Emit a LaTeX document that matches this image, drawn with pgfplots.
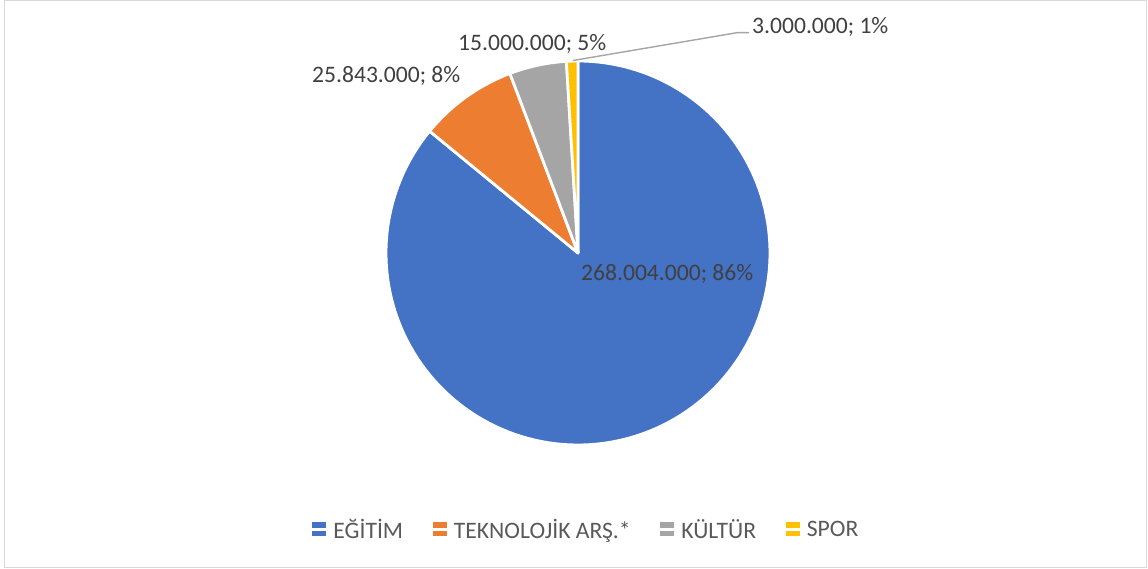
\documentclass[border=0pt]{standalone}
\usepackage{pgfplots}
\pgfplotsset{compat=1.18}
\usepackage{fontspec}
\setmainfont{Carlito}
\definecolor{cBlue}{HTML}{4472C4}
\definecolor{cOrange}{HTML}{ED7D31}
\definecolor{cGray}{HTML}{A5A5A5}
\definecolor{cYellow}{HTML}{FFC000}
\definecolor{lblText}{HTML}{404040}
\definecolor{legText}{HTML}{595959}
\definecolor{frameGray}{HTML}{D9D9D9}
% values in millions
\pgfmathsetmacro\vA{268.004}
\pgfmathsetmacro\vB{25.843}
\pgfmathsetmacro\vC{15.000}
\pgfmathsetmacro\vD{3.000}
\pgfmathsetmacro\tot{\vA+\vB+\vC+\vD}
\pgfmathsetmacro\aA{90}
\pgfmathsetmacro\aB{\aA-360*(\vA/\tot)}
\pgfmathsetmacro\aC{\aB-360*(\vB/\tot)}
\pgfmathsetmacro\aD{\aC-360*(\vC/\tot)}
\pgfmathsetmacro\aE{\aD-360*(\vD/\tot)}
\newcommand\lblfont{\fontsize{23.6}{28}\selectfont}
\pgfplotsset{
  sqlegend/.style={legend image code/.code={%
    \node[fill=#1, draw=none, inner sep=0pt, outer sep=0pt, minimum width=14pt, minimum height=14pt, anchor=west] at (0pt,0pt) {};
    \path (0pt,0pt) -- (19pt,0pt);}},
}
\begin{document}%
\begin{tikzpicture}
\begin{axis}[
  x=1pt, y=1pt,
  xmin=0, xmax=1148, ymin=0, ymax=569,
  hide axis, clip=false,
  scale only axis,
  legend columns=4,
  legend style={at={(axis cs:585,39.5)}, anchor=center, draw=none, fill=none,
    font=\lblfont, text=legText,
    /tikz/every even column/.append style={column sep=27pt},
    nodes={inner sep=1pt}},
]
\coordinate (BL) at (axis cs:0,0);
\coordinate (TR) at (axis cs:1148,569);
\draw[frameGray, line width=1.2pt] (axis cs:4.5,1.5) rectangle (axis cs:1146.5,568.5);
\addplot[fill=cBlue, draw=white, line width=2.8pt, line join=round, sqlegend=cBlue, domain=\aB:\aA, samples=150, variable=\t]
  ({578+192*cos(\t)},{316+192*sin(\t)}) -- (axis cs:578,316) -- cycle;
\addlegendentry{EĞİTİM}
\addplot[fill=cOrange, draw=white, line width=2.8pt, line join=round, sqlegend=cOrange, domain=\aC:\aB, samples=30, variable=\t]
  ({578+192*cos(\t)},{316+192*sin(\t)}) -- (axis cs:578,316) -- cycle;
\addlegendentry{TEKNOLOJİK ARŞ.*}
\addplot[fill=cGray, draw=white, line width=2.8pt, line join=round, sqlegend=cGray, domain=\aD:\aC, samples=20, variable=\t]
  ({578+192*cos(\t)},{316+192*sin(\t)}) -- (axis cs:578,316) -- cycle;
\addlegendentry{KÜLTÜR}
\addplot[fill=cYellow, draw=white, line width=2.8pt, line join=round, sqlegend=cYellow, domain=\aE:\aD, samples=8, variable=\t]
  ({578+192*cos(\t)},{316+192*sin(\t)}) -- (axis cs:578,316) -- cycle;
\addlegendentry{SPOR}
% leader line for smallest slice
\draw[cGray, line width=1.4pt] (axis cs:573,508.5) -- (axis cs:737,536.3) -- (axis cs:749,536.3);
% data labels
\node[font=\lblfont, text=lblText, anchor=west, inner sep=0pt] at (axis cs:581,295) {268.004.000; 86\%};
\node[font=\lblfont, text=lblText, anchor=west, inner sep=0pt] at (axis cs:312,493) {25.843.000; 8\%};
\node[font=\lblfont, text=lblText, anchor=west, inner sep=0pt] at (axis cs:458,525) {15.000.000; 5\%};
\node[font=\lblfont, text=lblText, anchor=west, inner sep=0pt] at (axis cs:752,542) {3.000.000; 1\%};
\end{axis}
\pgfresetboundingbox
\path[use as bounding box] (BL) rectangle (TR);
\end{tikzpicture}%
\end{document}
